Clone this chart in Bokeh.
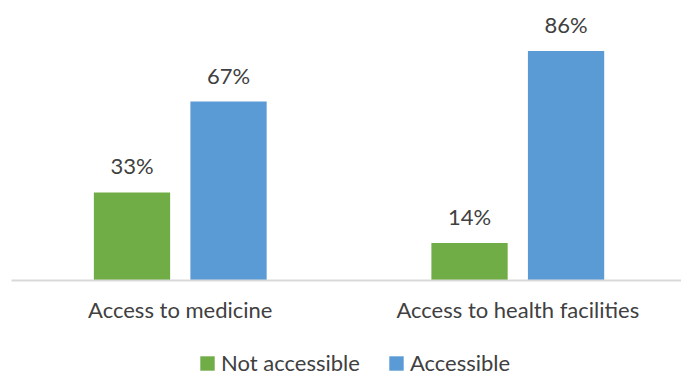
from bokeh.plotting import figure
from bokeh.layouts import column
from bokeh.models import ColumnDataSource, Range1d, FixedTicker, LabelSet, Legend, LegendItem
from bokeh.core.properties import value
from bokeh.embed import file_html
from bokeh.resources import INLINE

categories = ["Access to medicine", "Access to health facilities"]
series_names = ["Not accessible", "Accessible"]
not_accessible = [33, 14]
accessible = [67, 86]
colors = ["#70AD47", "#5B9BD5"]

FONT = "Lato"
TEXT = "#404040"
FS = "22px"

centers = [i + 0.5 for i in range(len(categories))]
offset = 0.143
bar_w = 0.226

p = figure(frame_width=670, frame_height=267, x_range=Range1d(0, 1.985), y_range=Range1d(0, 100),
           output_backend="svg", toolbar_location=None, y_axis_location=None,
           min_border_left=11, min_border_right=0, min_border_top=13, min_border_bottom=50)
p.outline_line_color = None
p.xgrid.visible = False
p.ygrid.visible = False

sources = []
for vals, name, col, sgn in [(not_accessible, series_names[0], colors[0], -1),
                             (accessible, series_names[1], colors[1], 1)]:
    src = ColumnDataSource(dict(x=[c + sgn * offset for c in centers], top=vals,
                                label=[f"{v}%" for v in vals], cat=categories))
    sources.append(src)
    p.vbar(x="x", top="top", width=bar_w, bottom=0, source=src, fill_color=col, line_color=None)
    p.add_layout(LabelSet(x="x", y="top", text="label", source=src, y_offset=18,
                          text_align="center", text_baseline="alphabetic",
                          text_font=value(FONT), text_font_size=value(FS), text_color=TEXT))

ax = p.xaxis[0]
ax.ticker = FixedTicker(ticks=centers)
ax.major_label_overrides = {c: n for c, n in zip(centers, categories)}
ax.axis_line_color = "#D9D9D9"
ax.axis_line_width = 2
ax.major_tick_line_color = None
ax.major_tick_out = 0
ax.major_tick_in = 0
ax.minor_tick_line_color = None
ax.major_label_standoff = 15
ax.major_label_text_font = FONT
ax.major_label_text_font_size = FS
ax.major_label_text_color = TEXT

# legend strip below the chart (its bars fall outside this strip's y range, only the legend shows)
p2 = figure(width=681, height=45, x_range=Range1d(0, 1.985), y_range=Range1d(200, 201),
            output_backend="svg", toolbar_location=None, x_axis_location=None, y_axis_location=None,
            min_border=0)
p2.outline_line_color = None
p2.xgrid.visible = False
p2.ygrid.visible = False
leg_r = [p2.vbar(x="x", top="top", width=bar_w, bottom=0, source=s, fill_color=c, line_color=None)
         for s, c in zip(sources, colors)]
legend = Legend(items=[LegendItem(label=n, renderers=[r], index=0) for n, r in zip(series_names, leg_r)],
                orientation="horizontal", location=(187, -1), glyph_width=18, glyph_height=18,
                label_standoff=5, spacing=27, padding=0, margin=0, border_line_color=None,
                background_fill_alpha=0, label_text_font=FONT, label_text_font_size=FS,
                label_text_color=TEXT, label_height=14)
p2.add_layout(legend)

layout = column(p, p2, spacing=0)
open("out.html", "w").write(file_html(layout, INLINE))
